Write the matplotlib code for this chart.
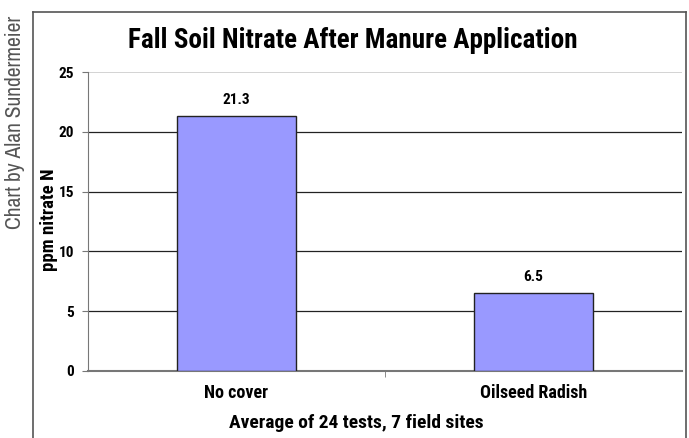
import numpy as np
import matplotlib.pyplot as plt

# data
categories = ["No cover", "Oilseed Radish"]
nitrate = [21.3, 6.5]
y_ticks = [0, 5, 10, 15, 20, 25]

bold_font = ['Roboto Condensed', 'DejaVu Sans']
plt.rcParams['font.family'] = ['Archivo Narrow', 'DejaVu Sans']

fig = plt.figure(figsize=(6.89, 4.38), dpi=100)
fig.patch.set_facecolor("white")

# outer frame (open at bottom)
W, H = 689, 438
frame = dict(color="#555555", lw=1.2, transform=fig.transFigure)
fig.add_artist(plt.Line2D([33/W, 33/W], [0, 1-12/H], **frame))
fig.add_artist(plt.Line2D([33/W, 686/W], [1-12/H, 1-12/H], **frame))
fig.add_artist(plt.Line2D([686/W, 686/W], [0, 1-12/H], **frame))

ax = fig.add_axes([88/W, 1-371/H, 594/W, 299/H])
x = np.arange(len(categories))
ax.bar(x, nitrate, width=0.4, color="#9999FF", edgecolor="#222222", linewidth=1, zorder=3)

ax.set_xlim(-0.5, 1.5)
ax.set_ylim(0, 25)
ax.set_yticks(y_ticks)
ax.set_yticklabels([str(t) for t in y_ticks], fontweight="bold", fontsize=11, family=bold_font)
ax.set_xticks(x)
ax.set_xticklabels(categories, fontweight="bold", fontsize=13, family=bold_font)
ax.set_xticks([0.5], minor=True)
ax.tick_params(axis="x", which="major", length=0, pad=9)
ax.tick_params(axis="x", which="minor", length=4, direction="out", color="#777777")
ax.tick_params(axis="y", length=4, direction="out", color="#777777", pad=6)

for t in y_ticks[1:-1]:
    ax.axhline(t, color="#222222", lw=0.9, zorder=1)
ax.axhline(25, color="#cccccc", lw=1.2, zorder=1)

for s in ["top", "right"]:
    ax.spines[s].set_visible(False)
ax.spines["left"].set_color("#777777")
ax.spines["bottom"].set_color("#777777")
ax.spines["bottom"].set_linewidth(1.5)

for xi, v in zip(x, nitrate):
    ax.text(xi, v + 0.8, f"{v}", ha="center", va="bottom", fontweight="bold", fontsize=11, family=bold_font)

fig.text(49/W, 1-220/H, "ppm nitrate N", rotation=90, ha="center", va="center",
         fontweight="bold", fontsize=13.5, family=bold_font)
fig.text(356/W, 1-423/H, "Average of 24 tests, 7 field sites", ha="center", va="center",
         fontweight="bold", fontsize=14, family=bold_font)
fig.text(353/W, 1-40/H, "Fall Soil Nitrate After Manure Application", ha="center", va="center",
         fontweight="bold", fontsize=19.5, family=bold_font)
fig.text(15/W, 1-122/H, "Chart by Alan Sundermeier", rotation=90, ha="center", va="center",
         color="#555555", fontsize=15.5)

fig.savefig("out.png", dpi=100)
